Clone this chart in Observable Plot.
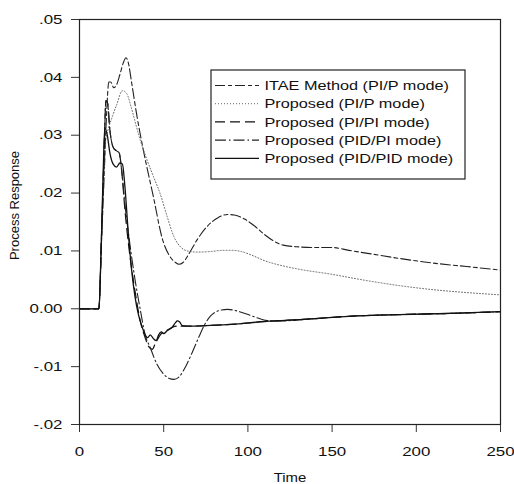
<!DOCTYPE html>
<html><head><meta charset="utf-8">
<script src="https://cdn.jsdelivr.net/npm/d3@7"></script>
<script src="https://cdn.jsdelivr.net/npm/@observablehq/plot@0.6"></script>
<style>
body{margin:0;background:#fff;}
#chart svg text{font-family:"Liberation Sans",Arial,sans-serif;fill:#111;}
</style></head><body><div id="chart"></div>
<script>
// ---- data ----
const xTicks = [0, 50, 100, 150, 200, 250];
const yTicks = [-0.02, -0.01, 0, 0.01, 0.02, 0.03, 0.04, 0.05];
const yTickLabels = ["-.02", "-.01", "0.00", ".01", ".02", ".03", ".04", ".05"];
const seriesNames = ["ITAE Method (PI/P mode)", "Proposed (PI/P mode)", "Proposed (PI/PI mode)", "Proposed (PID/PI mode)", "Proposed (PID/PID mode)"];

const itaeT = [0, 11.5, 13, 14.5, 16, 17.4, 18.5, 20.4, 22, 24, 26, 27.6, 29, 31, 34, 38, 44, 49, 54, 57, 59, 61.5, 65, 70, 76, 82, 88, 92, 98, 104, 110, 116, 121, 130, 140, 150, 160, 175, 190, 210, 230, 250];
const itaeV = [0, 0, 0.011, 0.022, 0.033, 0.0392, 0.0392, 0.0382, 0.0387, 0.0405, 0.0425, 0.0434, 0.0425, 0.039, 0.0335, 0.0273, 0.0192, 0.0123, 0.0089, 0.008, 0.0077, 0.008, 0.0095, 0.012, 0.0143, 0.0157, 0.0163, 0.0162, 0.0155, 0.0143, 0.0128, 0.0116, 0.011, 0.0107, 0.0106, 0.0106, 0.0101, 0.0094, 0.0087, 0.0079, 0.0073, 0.0067];

const piPT = [0, 11.5, 13, 14.5, 15.5, 17, 19, 22, 25.5, 28, 31, 35, 40, 44, 48, 52, 56, 60, 64, 70, 78, 85, 91, 96, 102, 110, 121, 131, 149, 170, 190, 210, 230, 250];
const piPV = [0, 0, 0.011, 0.022, 0.029, 0.031, 0.0328, 0.0352, 0.0377, 0.0372, 0.0345, 0.0302, 0.0258, 0.0228, 0.0198, 0.016, 0.0125, 0.0107, 0.01, 0.0098, 0.0099, 0.0101, 0.0101, 0.0099, 0.0093, 0.0083, 0.0074, 0.0068, 0.006, 0.0049, 0.004, 0.0033, 0.0028, 0.0024];

const piPIT = [0, 11.5, 13, 14.5, 15.7, 16.7, 18, 20, 22, 23.5, 25, 27, 30, 33, 36, 39, 41, 43.2, 45, 48, 52, 58, 66, 75, 90, 110, 135, 160, 190, 220, 250];
const piPIV = [0, 0, 0.012, 0.026, 0.036, 0.0355, 0.031, 0.0279, 0.0273, 0.027, 0.024, 0.017, 0.009, 0.003, -0.002, -0.005, -0.0065, -0.007, -0.006, -0.0045, -0.0037, -0.003, -0.003, -0.0029, -0.0027, -0.0022, -0.0018, -0.0013, -0.001, -0.0008, -0.0005];

const pidPIT = [0, 11.5, 13, 14.5, 15.7, 16.7, 18, 20, 22, 23.5, 25, 27, 30, 33, 36, 39, 42, 46, 50, 53, 56, 59, 63, 67, 71, 74, 78, 83, 88, 95, 102, 108, 114, 120, 135, 160, 190, 220, 250];
const pidPIV = [0, 0, 0.012, 0.026, 0.036, 0.0355, 0.031, 0.0279, 0.0273, 0.027, 0.024, 0.018, 0.011, 0.005, 0, -0.0045, -0.0067, -0.0096, -0.0113, -0.012, -0.0122, -0.0118, -0.01, -0.0075, -0.0048, -0.0029, -0.0012, -0.0003, -0.0001, -0.0005, -0.0012, -0.0018, -0.0021, -0.0021, -0.0018, -0.0013, -0.001, -0.0008, -0.0005];

const pidPIDT = [0, 11.5, 13, 14.2, 15, 16.5, 18, 20, 22, 24, 25.5, 27, 29, 31, 33, 35, 37, 39, 40.5, 42, 44, 45.5, 47, 48.5, 50, 52, 55, 57, 58, 59.5, 61, 66, 75, 90, 110, 135, 160, 190, 220, 250];
const pidPIDV = [0, 0, 0.012, 0.025, 0.0313, 0.03, 0.027, 0.025, 0.0245, 0.0252, 0.025, 0.021, 0.013, 0.0066, 0.002, -0.001, -0.003, -0.0045, -0.005, -0.0045, -0.0052, -0.0055, -0.0045, -0.004, -0.0043, -0.0038, -0.0032, -0.0024, -0.0021, -0.0023, -0.0029, -0.003, -0.0029, -0.0027, -0.0022, -0.0018, -0.0013, -0.001, -0.0008, -0.0005];

const seriesT = [itaeT, piPT, piPIT, pidPIT, pidPIDT];
const seriesV = [itaeV, piPV, piPIV, pidPIV, pidPIDV];

// ---- styles ----
const styles = [
  {stroke: "#222", dash: "10,3,4,3", width: 1.1},
  {stroke: "#666", dash: "1,2", width: 1},
  {stroke: "#111", dash: "10,5", width: 1.2},
  {stroke: "#222", dash: "11,3,1.5,3", width: 1.1},
  {stroke: "#111", dash: null, width: 1.3}
];

const data = [];
seriesNames.forEach((name, i) => {
  seriesT[i].forEach((t, j) => data.push({series: name, t, v: seriesV[i][j]}));
});

const fmtY = d => yTickLabels[yTicks.findIndex(t => Math.abs(t - d) < 1e-9)];

const plot = Plot.plot({
  width: 514, height: 484,
  marginLeft: 79, marginRight: 14, marginTop: 19, marginBottom: 60,
  style: {fontFamily: "Liberation Sans, Arial, sans-serif", fontSize: "13px", color: "#111", background: "#fff", overflow: "visible"},
  x: {domain: [0, 250]},
  y: {domain: [-0.02, 0.05]},
  marks: [
    Plot.axisX({ticks: xTicks, tickSize: 8, tickPadding: 14, tickFormat: d => String(d), label: null, stroke: "#333"}),
    Plot.axisY({ticks: yTicks, tickSize: 8, tickPadding: 9, tickFormat: fmtY, label: null, stroke: "#333"}),
    ...seriesNames.map((name, i) => Plot.line(data.filter(d => d.series === name), {
      x: "t", y: "v", curve: "monotone-x",
      stroke: styles[i].stroke, strokeWidth: styles[i].width,
      strokeDasharray: styles[i].dash || undefined
    })),
    Plot.frame({stroke: "#222", strokeWidth: 1.2})
  ]
});

document.getElementById("chart").appendChild(plot);
const svg = d3.select(plot);

// widen horizontal tick labels to match reference lettering
svg.selectAll('g[aria-label="x-axis tick label"] text, g[aria-label="y-axis tick label"] text').each(function() {
  const tr = this.getAttribute("transform") || "";
  this.setAttribute("transform", tr + " scale(1.3,1)");
});

// axis titles
svg.append("text").attr("transform", "translate(290,481.5) scale(1.15,1)")
  .attr("text-anchor", "middle").style("font-size", "13px").text("Time");
svg.append("text").attr("transform", "translate(18.5,205.5) rotate(-90)")
  .attr("text-anchor", "middle").style("font-size", "13px").text("Process Response");

// legend
const lg = svg.append("g");
lg.append("rect").attr("x", 211).attr("y", 70).attr("width", 254).attr("height", 109)
  .attr("fill", "#fff").attr("stroke", "#222").attr("stroke-width", 1.2);
seriesNames.forEach((name, i) => {
  const cy = 85.5 + i * 18.2;
  lg.append("line").attr("x1", 215).attr("x2", 259).attr("y1", cy).attr("y2", cy)
    .attr("stroke", styles[i].stroke).attr("stroke-width", styles[i].width)
    .attr("stroke-dasharray", styles[i].dash);
  lg.append("text").attr("transform", `translate(264.5,${cy + 4.6}) scale(1.25,1)`)
    .attr("text-anchor", "start").style("font-size", "13px").text(name);
});
</script></body></html>
